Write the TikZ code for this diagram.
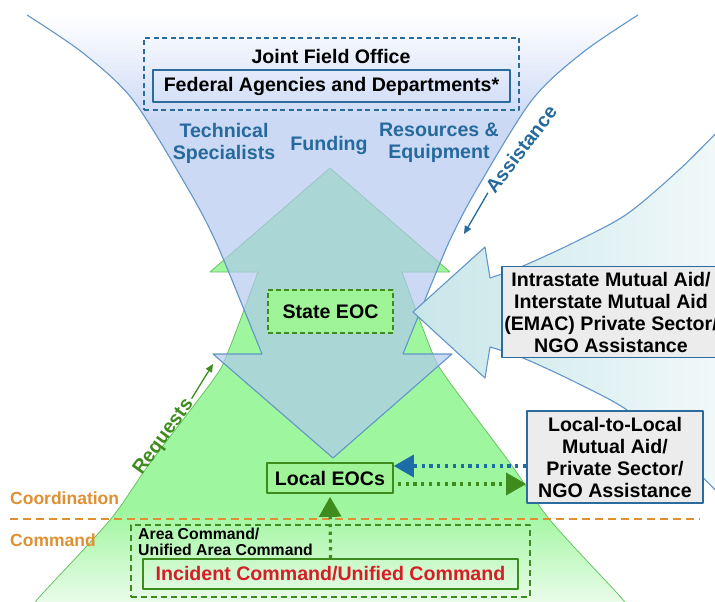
\documentclass[tikz,border=0pt]{standalone}
\usepackage{fontspec}
\setmainfont{Liberation Sans}
\usetikzlibrary{arrows.meta}

\definecolor{funnelblue}{RGB}{178,199,241}
\definecolor{hillgreen}{RGB}{158,246,158}
\definecolor{hillpale}{RGB}{236,252,236}
\definecolor{sideteal}{RGB}{200,230,233}
\definecolor{edgeblue}{RGB}{44,108,156}
\definecolor{lineblue}{RGB}{98,150,198}
\definecolor{textblue}{RGB}{38,106,156}
\definecolor{dotblue}{RGB}{28,108,168}
\definecolor{darkgreen}{RGB}{62,140,30}
\definecolor{edgegreen}{RGB}{104,196,96}
\definecolor{boxgray}{RGB}{236,236,236}
\definecolor{eocgreen}{RGB}{160,244,152}
\definecolor{icred}{RGB}{214,30,40}
\definecolor{lvlorange}{RGB}{222,144,50}

\pgfdeclareverticalshading{funnelshade}{100bp}{color(0bp)=(funnelblue); color(63bp)=(funnelblue); color(75bp)=(white); color(100bp)=(white)}
\pgfdeclareverticalshading{hillshade}{100bp}{color(0bp)=(hillpale); color(25bp)=(hillpale); color(36bp)=(hillgreen); color(100bp)=(hillgreen)}

\newcommand\biglbl{\fontsize{19.6}{22}\selectfont\bfseries}
\newcommand\lvllbl{\fontsize{17.5}{20}\selectfont\bfseries}
\newcommand\arealbl{\fontsize{15.8}{16}\selectfont\bfseries}

\tikzset{
  lbl/.style={font=\biglbl, align=center, inner sep=0pt},
  outlinebox/.style={lbl, draw=#1, line width=1.6pt},
  dashbox/.style={draw=#1, line width=1.6pt, dash pattern=on 5pt off 3.5pt, inner sep=0pt},
  graybox/.style={outlinebox=edgeblue, fill=boxgray},
  eocbox/.style={outlinebox=darkgreen, fill=eocgreen},
  bluetext/.style={lbl, text=textblue},
  lvltext/.style={font=\lvllbl, text=lvlorange, inner sep=0pt, anchor=west},
  dotarrow/.style={draw=#1, line width=3.2pt, dash pattern=on 3.2pt off 4.6pt, -{Triangle[length=20pt,width=22pt]}},
  sidearrow/.style={draw=#1, line width=1.3pt, -{Triangle[length=8pt,width=7pt]}, shorten <=3pt},
}

\begin{document}
\begin{tikzpicture}[x=1pt, y=-1pt, line join=round]
\useasboundingbox (0,0) rectangle (715,602);

% green hill, narrowing to the up arrow
\shadedraw[shading=hillshade, draw=edgegreen, line width=0.8pt] (258,272) -- (210,272) -- (330,168) -- (450,272) -- (402,272)
  -- plot[smooth] coordinates {(402,272) (432,352) (448,380) (510,463) (550,520) (617,593) (626,604)}
  -- plot[smooth] coordinates {(34,604) (43,593) (110,520) (150,463) (213,380) (228,352) (258,272)} -- cycle;

% blue funnel, narrowing to the down arrow
\shade[shading=funnelshade, fill opacity=0.68] (262,354) -- (213,354) -- (333,458) -- (452,354) -- (403,354)
  -- plot[smooth] coordinates {(403,354) (420,312) (450,240) (478,187) (532,100) (582,53) (638,15)}
  -- plot[smooth] coordinates {(27,15) (83,53) (133,100) (187,187) (215,240) (245,312) (262,354)} -- cycle;
\draw[lineblue, line width=1.1pt] plot[smooth] coordinates {(27,15) (83,53) (133,100) (187,187) (215,240) (245,312) (262,354)}
  -- (213,354) -- (333,458) -- (452,354) -- (403,354)
  -- plot[smooth] coordinates {(403,354) (420,312) (450,240) (478,187) (532,100) (582,53) (638,15)};

% side funnel from the right
\shadedraw[left color=sideteal, right color=sideteal!25!white, draw=lineblue, line width=1.1pt] (413,312) -- (485,247) -- (490,278)
  -- plot[smooth] coordinates {(490,278) (523,266) (575,242) (627,214) (680,169) (722,127)}
  -- (722,497)
  -- plot[smooth] coordinates {(722,497) (680,455) (627,410) (575,382) (523,358) (490,347)}
  -- (485,378) -- cycle;

\draw[lvlorange, line width=1.6pt, dash pattern=on 8pt off 5pt] (10,519) -- (700,519);
\node[lvltext] (coord) at (10,498) {Coordination};
\node[lvltext] (cmd) at (10,540) {Command};

\node[dashbox=edgeblue, minimum width=375, minimum height=72] (jfo) at (331.5,74) {};
\node[lbl] (jfotitle) at (331,56) {Joint Field Office};
\node[outlinebox=edgeblue, minimum width=357, minimum height=32] (fed) at (331.5,86) {Federal Agencies and Departments*};

\node[bluetext] (tech) at (224,143) {Technical\\Specialists};
\node[bluetext] (fund) at (329,145) {Funding};
\node[bluetext] (res) at (439,143) {Resources \&\\Equipment};

\node[bluetext, rotate=52.5] (ass) at (521,149) {Assistance};
\coordinate (asstip) at (464,234);
\draw[sidearrow=textblue] (ass.west) -- (asstip);

\node[lbl, text=darkgreen, rotate=54] (req) at (164,437) {Requests};
\coordinate (reqtip) at (213,364);
\draw[sidearrow=darkgreen] (req.east) -- (reqtip);

\node[eocbox, dash pattern=on 5pt off 3pt, minimum width=125, minimum height=43] (seoc) at (330.5,311.5) {State EOC};
\node[eocbox, minimum width=126, minimum height=30] (leoc) at (330,478) {Local EOCs};

\node[graybox, minimum width=218, minimum height=91] (intra) at (611,312) {Intrastate Mutual Aid/\\Interstate Mutual Aid\\(EMAC) Private Sector/\\NGO Assistance};
\node[graybox, minimum width=176, minimum height=92] (l2l) at (615,457) {Local-to-Local\\Mutual Aid/\\Private Sector/\\NGO Assistance};

\node[dashbox=darkgreen, dash pattern=on 6pt off 4pt, minimum width=399, minimum height=72] (area) at (330.5,561) {};
\node[font=\arealbl, align=left, inner sep=0pt, anchor=north west] (arealbl) at (138,527.5) {Area Command/\\Unified Area Command};
\node[outlinebox=darkgreen, text=icred, minimum width=375, minimum height=30] (ic) at (330.5,574) {Incident Command/Unified Command};

\draw[dotarrow=dotblue] (l2l.west |- 0,466) -- (leoc.east |- 0,466);
\draw[dotarrow=darkgreen] ([xshift=4pt]leoc.east |- 0,484) -- (l2l.west |- 0,484);
\draw[dotarrow=darkgreen, shorten >=3pt] (ic.north) -- (leoc.south);
\end{tikzpicture}
\end{document}
